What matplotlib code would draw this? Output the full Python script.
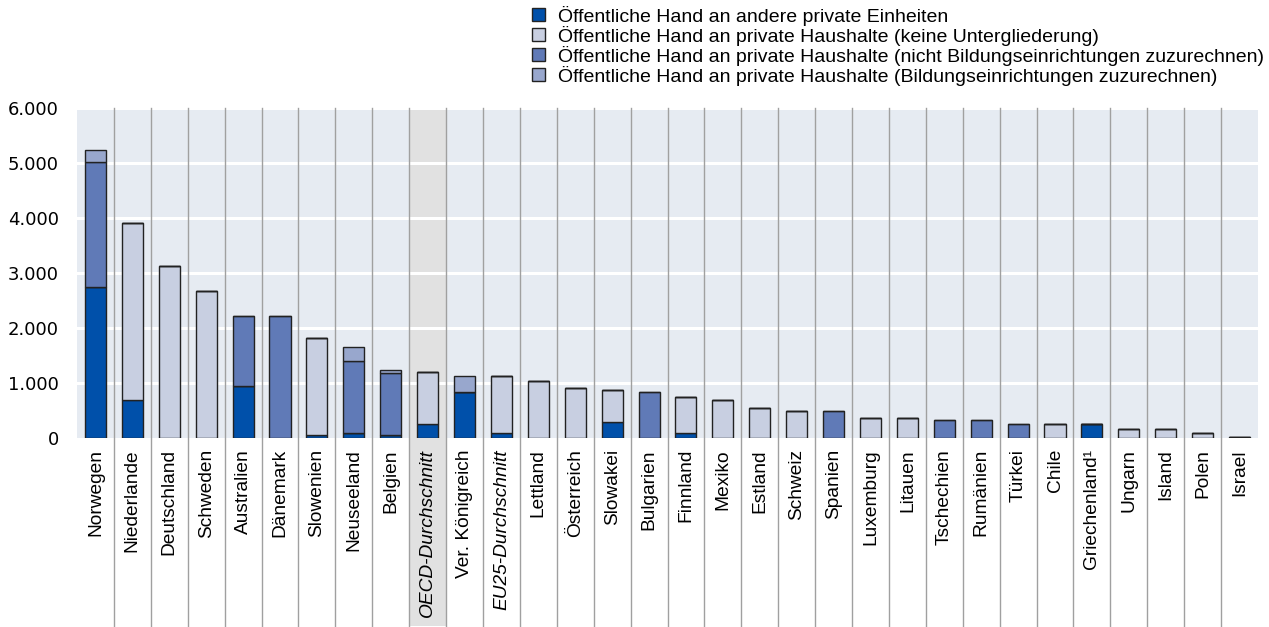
import numpy as np
import matplotlib.pyplot as plt
from matplotlib.patches import Rectangle

plt.rcParams['font.family'] = ['Liberation Sans', 'DejaVu Sans']

countries = ["Norwegen", "Niederlande", "Deutschland", "Schweden", "Australien", "Dänemark",
             "Slowenien", "Neuseeland", "Belgien", "OECD-Durchschnitt", "Ver. Königreich",
             "EU25-Durchschnitt", "Lettland", "Österreich", "Slowakei", "Bulgarien", "Finnland",
             "Mexiko", "Estland", "Schweiz", "Spanien", "Luxemburg", "Litauen", "Tschechien",
             "Rumänien", "Türkei", "Chile", "Griechenland¹", "Ungarn", "Island", "Polen", "Israel"]

# Öffentliche Hand an andere private Einheiten
andere = [2750, 700, 0, 0, 950, 0, 50, 90, 50, 250, 830, 90, 0, 0, 290, 0, 90,
          0, 0, 0, 0, 0, 0, 0, 0, 0, 0, 260, 0, 0, 0, 0]
# private Haushalte (keine Untergliederung)
keine = [0, 3210, 3130, 2680, 0, 0, 1760, 0, 0, 950, 0, 1030, 1040, 915, 580, 0, 660,
         700, 540, 500, 0, 370, 370, 0, 0, 0, 250, 0, 170, 170, 90, 15]
# private Haushalte (nicht Bildungseinrichtungen zuzurechnen)
nicht_bildung = [2270, 0, 0, 0, 1275, 2225, 0, 1310, 1140, 0, 0, 0, 0, 0, 0, 830, 0,
                 0, 0, 0, 500, 0, 0, 333, 333, 260, 0, 0, 0, 0, 0, 0]
# private Haushalte (Bildungseinrichtungen zuzurechnen)
bildung = [210, 0, 0, 0, 0, 0, 0, 250, 50, 0, 290, 0, 0, 0, 0, 0, 0,
           0, 0, 0, 0, 0, 0, 0, 0, 0, 0, 0, 0, 0, 0, 0]

series = [andere, keine, nicht_bildung, bildung]
labels = ["Öffentliche Hand an andere private Einheiten",
          "Öffentliche Hand an private Haushalte (keine Untergliederung)",
          "Öffentliche Hand an private Haushalte (nicht Bildungseinrichtungen zuzurechnen)",
          "Öffentliche Hand an private Haushalte (Bildungseinrichtungen zuzurechnen)"]
colors = ["#0050aa", "#c8cfe1", "#607ab7", "#98a7cd"]
averages = ["OECD-Durchschnitt", "EU25-Durchschnitt"]

W, H = 1269, 627
fig = plt.figure(figsize=(W / 100, H / 100), dpi=100)
ax = fig.add_axes([77 / W, 1 - 438 / H, 1181 / W, 330 / H])
ax.set_facecolor("#e6ebf2")

x = np.arange(len(countries))
ax.set_xlim(-0.5, len(countries) - 0.5)
ax.set_ylim(0, 6000)
below = -0.57   # how far separators run under the labels (axes fraction)

# grey highlight for OECD average (extends under the label)
oi = countries.index("OECD-Durchschnitt")
ax.add_patch(Rectangle((oi - 0.5, below), 1, 1 - below, transform=ax.get_xaxis_transform(),
                       facecolor="#e1e1e1", edgecolor="none", zorder=0.5, clip_on=False))

ax.set_yticks(range(0, 6001, 1000))
ax.set_yticklabels(["0", "1.000", "2.000", "3.000", "4.000", "5.000", "6.000"],
                   family="DejaVu Sans", fontsize=13)
for yv in range(1000, 6001, 1000):
    ax.axhline(yv, color="white", lw=2.2, zorder=1)

# separators between countries
for i in range(1, len(countries)):
    ax.plot([i - 0.5, i - 0.5], [below, 1], transform=ax.get_xaxis_transform(),
            color="#a0a0a0", lw=1, clip_on=False, zorder=1.5)

bottom = np.zeros(len(countries))
for vals, col in zip(series, colors):
    vals = np.array(vals, dtype=float)
    ax.bar(x, vals, width=0.57, bottom=bottom, color=col, edgecolor="#222222",
           linewidth=1, zorder=3)
    bottom += vals

ax.set_xticks(x)
ax.set_xticklabels(countries, rotation=90, fontsize=13.8)
for t in ax.get_xticklabels():
    if t.get_text() in averages:
        t.set_style("italic")
ax.tick_params(axis="both", length=0)
ax.tick_params(axis="x", pad=8)
ax.tick_params(axis="y", pad=13)
for s in ax.spines.values():
    s.set_visible(False)

# legend
for k, (lab, col) in enumerate(zip(labels, colors)):
    yc = 14.5 + 20 * k
    fig.patches.append(Rectangle((532 / W, 1 - (yc + 6.5) / H), 13 / W, 13 / H,
                                 transform=fig.transFigure, facecolor=col,
                                 edgecolor="#222222", linewidth=1))
    fig.text(558 / W, 1 - yc / H, lab, fontsize=14, va="center_baseline", ha="left")

fig.savefig("out.png", dpi=100)
